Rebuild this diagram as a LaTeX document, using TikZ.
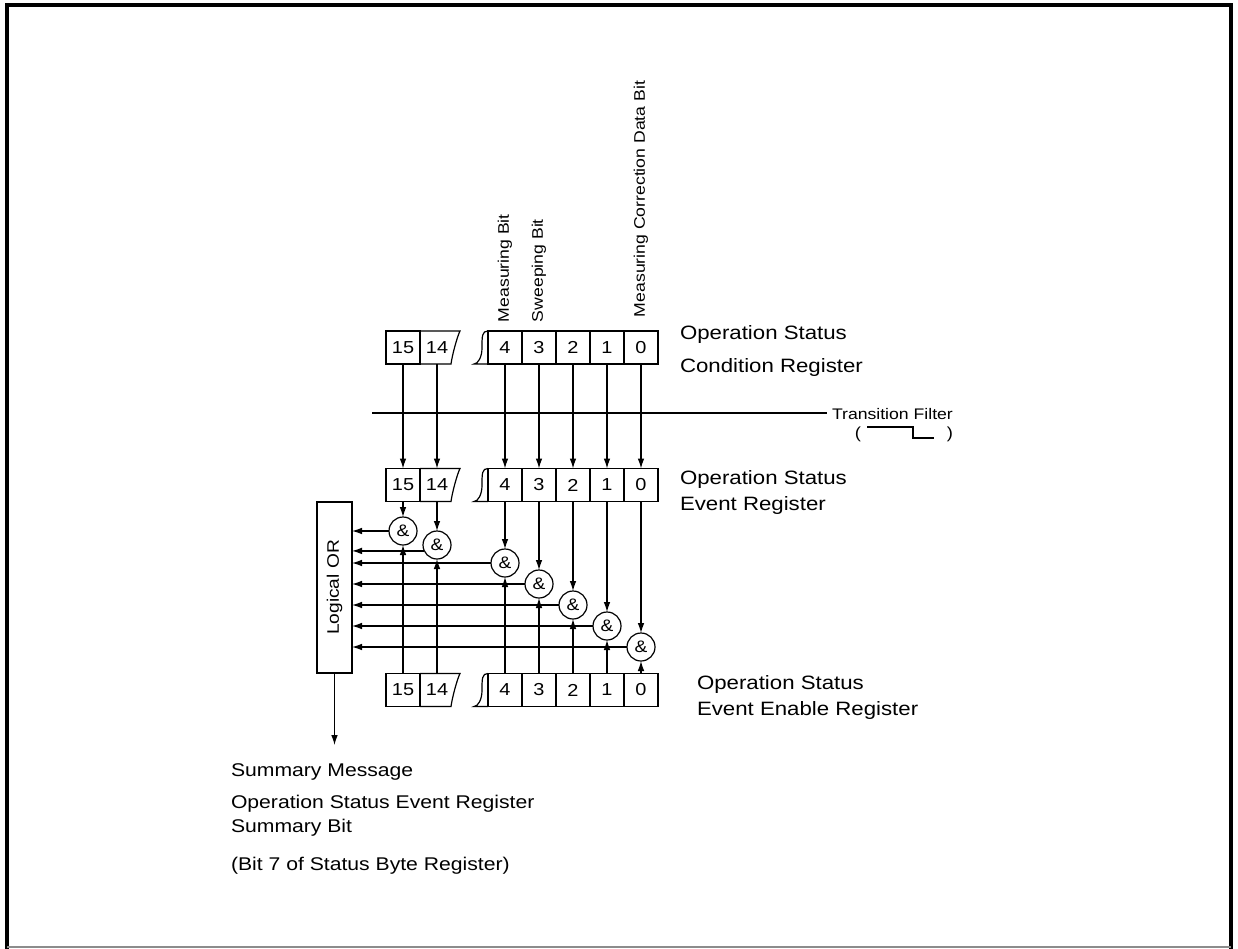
\documentclass[tikz,border=0pt]{standalone}
\usepackage{fontspec}
\setmainfont{Liberation Sans}[FakeStretch=1.15]
\usetikzlibrary{arrows.meta,calc}
\begin{document}
\begin{tikzpicture}[x=0.75pt,y=-0.75pt,
  every node/.style={inner sep=0pt,outer sep=0pt},
  ln/.style={line width=0.9pt},
  cell/.style={draw,line width=0.9pt,minimum width=25.5pt,minimum height=24.75pt,font=\fontsize{13}{15}\selectfont},
  celltxt/.style={minimum width=18pt,minimum height=24.75pt,font=\fontsize{13}{15}\selectfont},
  gate/.style={draw,circle,line width=0.9pt,minimum size=21pt,font=\fontsize{12.5}{14}\selectfont},
  arr/.style={line width=0.9pt,-{Latex[length=7.5pt,width=5pt]}},
  lbl/.style={anchor=base west,font=\fontsize{14.5}{17}\selectfont},
  btxt/.style={anchor=base west,font=\fontsize{13.8}{16}\selectfont},
  rot/.style={rotate=90,anchor=west,font=\fontsize{11.5}{13}\selectfont}]
\useasboundingbox (0,0) rectangle (1238,949);
% frame
\draw[line width=3pt] (7,949) -- (7,5) -- (1231,5) -- (1231,949);
\draw[line width=1pt,black!45] (7,947) -- (1231,947);

% registers
\foreach \rr/\yc in {c/347.5,e/485,n/690}{
  \node[cell] (\rr15) at (403,\yc) {15};
  \node[celltxt] (\rr14) at (437,\yc) {14};
  \draw[ln] (\rr15.north east) -- ++(40,0) .. controls +(-3,6) and +(1,-8) .. ++(-9,33) -- (\rr15.south east);
  \foreach \b/\x in {4/505,3/539,2/573,1/607,0/641}{
    \node[cell] (\rr\b) at (\x,\yc) {\b};
  }
  \draw[ln] (\rr4.north west) .. controls +(-6,0) and +(0,-12) .. ++(-6,17) .. controls +(0,9) and +(4,0) .. ++(-8,16) -- (\rr4.south west);
}

% logical OR
\node[draw,ln,minimum width=26.25pt,minimum height=128.25pt] (or) at (334.5,587.5) {};
\node[rotate=90,font=\fontsize{12.5}{14}\selectfont] (orl) at (or.center) {Logical OR};

% gates and connectors
\foreach \b/\x/\gy in {15/403/531,14/437/545,4/505/563,3/539/584,2/573/605,1/607/626,0/641/647}{
  \node[gate] (g\b) at (\x,\gy) {\&};
  \draw[arr] (c\b.south) -- (e\b.north);
  \draw[arr] (e\b.south) -- (g\b.north);
  \draw[arr] (n\b.north) -- (g\b.south);
}
\foreach \b in {15,4,3,2,1,0}{
  \draw[arr] (g\b.west) -- (g\b.west -| or.east);
}
\draw[arr] (g14.205) -- (g14.205 -| or.east);

% summary arrow
\coordinate (sm) at (334.5,745);
\draw[arr] (or.south) -- (sm);

% transition filter
\coordinate (tfa) at (372,413);
\coordinate (tfb) at (827,413);
\draw[ln] (tfa) -- (tfb);
\node[anchor=base west,font=\fontsize{11.5}{13}\selectfont] (tf) at (832,419) {Transition Filter};
\node[font=\fontsize{12}{14}\selectfont] (pl) at (858,434) {(};
\node[font=\fontsize{12}{14}\selectfont] (pr) at (950,434) {)};
\draw[line width=0.8pt] (867,427) -- (913,427) -- (913,438) -- (934,438);

% rotated bit labels
\node[rot] (mb) at (505,322) {Measuring Bit};
\node[rot] (sb) at (539,322) {Sweeping Bit};
\node[rot] (mc) at (641,317) {Measuring Correction Data Bit};

% right labels
\node[lbl] (l1) at (680,339) {Operation Status};
\node[lbl] (l2) at (680,372) {Condition Register};
\node[lbl] (l3) at (680,484) {Operation Status};
\node[lbl] (l4) at (680,510) {Event Register};
\node[lbl] (l5) at (697,689) {Operation Status};
\node[lbl] (l6) at (697,715) {Event Enable Register};

% bottom text
\node[btxt] (t1) at (231,776) {Summary Message};
\node[btxt] (t2) at (231,808) {Operation Status Event Register};
\node[btxt] (t3) at (231,832) {Summary Bit};
\node[btxt] (t4) at (231,870) {(Bit 7 of Status Byte Register)};
\end{tikzpicture}
\end{document}
